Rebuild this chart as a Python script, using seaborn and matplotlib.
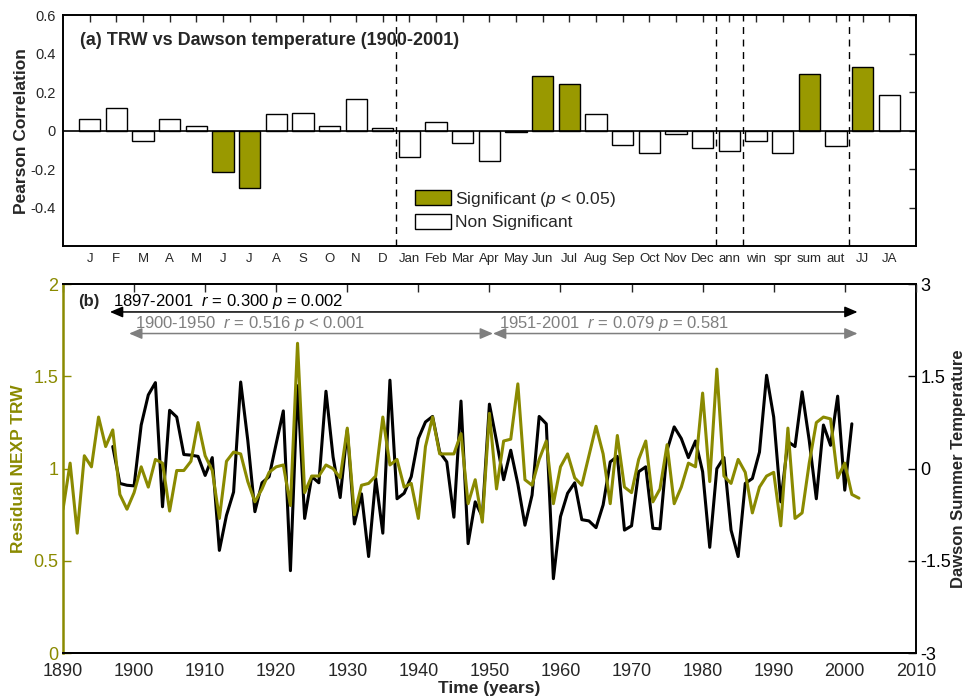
import numpy as np
import pandas as pd
import matplotlib
matplotlib.use('Agg')
import matplotlib.pyplot as plt
import seaborn as sns
from matplotlib.patches import Patch

# ---------------- data ----------------
months = ['J', 'F', 'M', 'A', 'M', 'J', 'J', 'A', 'S', 'O', 'N', 'D',
          'Jan', 'Feb', 'Mar', 'Apr', 'May', 'Jun', 'Jul', 'Aug', 'Sep', 'Oct', 'Nov', 'Dec',
          'ann', 'win', 'spr', 'sum', 'aut', 'JJ', 'JA']
corr = [0.061, 0.118, -0.054, 0.059, 0.024, -0.215, -0.296, 0.087, 0.092, 0.023, 0.165, 0.014,
        -0.135, 0.045, -0.062, -0.156, -0.005, 0.284, 0.242, 0.087, -0.074, -0.114, -0.016, -0.088,
        -0.104, -0.052, -0.116, 0.294, -0.078, 0.329, 0.185]
significant = [False, False, False, False, False, True, True, False, False, False, False, False,
               False, False, False, False, False, True, True, False, False, False, False, False,
               False, False, False, True, False, True, False]
dividers = [11.5, 23.5, 24.5, 28.5]

trw_years = list(range(1890, 2003))
trw = [0.78, 1.03, 0.65, 1.07, 1.01, 1.28, 1.12, 1.21, 0.86, 0.78,
       0.87, 1.01, 0.90, 1.05, 1.03, 0.77, 0.99, 0.99, 1.04, 1.25,
       1.07, 0.99, 0.73, 1.04, 1.09, 1.08, 0.93, 0.82, 0.89, 0.98,
       1.01, 1.02, 0.80, 1.68, 0.87, 0.96, 0.96, 1.02, 1.00, 0.95,
       1.22, 0.75, 0.91, 0.92, 0.96, 1.28, 1.02, 1.05, 0.90, 0.92,
       0.73, 1.12, 1.28, 1.08, 1.08, 1.08, 1.19, 0.81, 0.94, 0.71,
       1.30, 0.89, 1.15, 1.16, 1.46, 0.94, 0.91, 1.05, 1.15, 0.81,
       1.01, 1.08, 0.95, 0.91, 1.07, 1.23, 1.08, 0.81, 1.18, 0.90,
       0.87, 1.05, 1.15, 0.82, 0.89, 1.13, 0.81, 0.90, 1.03, 1.01,
       1.41, 0.93, 1.54, 0.96, 0.92, 1.05, 0.98, 0.76, 0.90, 0.96,
       0.98, 0.69, 1.22, 0.73, 0.76, 1.03, 1.25, 1.28, 1.27, 0.95,
       1.03, 0.86, 0.84]

temp_years = list(range(1897, 2002))
temp = [0.36, -0.24, -0.27,
        -0.28, 0.71, 1.20, 1.40, -0.62, 0.95, 0.84, 0.23, 0.22, 0.20,
        -0.11, 0.18, -1.33, -0.76, -0.38, 1.41, 0.46, -0.70, -0.23, -0.13,
        0.41, 0.94, -1.66, 1.35, -0.81, -0.13, -0.23, 1.26, 0.19, -0.47,
        0.63, -0.90, -0.41, -1.43, -0.16, -1.05, 1.44, -0.49, -0.40, -0.13,
        0.49, 0.76, 0.85, 0.27, 0.11, -0.79, 1.10, -1.22, -0.54, -0.78,
        1.05, 0.45, -0.18, 0.30, -0.25, -0.92, -0.43, 0.85, 0.73, -1.79,
        -0.78, -0.40, -0.23, -0.83, -0.85, -0.96, -0.59, 0.11, 0.20, -1.00,
        -0.93, -0.05, 0.03, -0.97, -0.98, 0.30, 0.68, 0.49, 0.18, 0.45,
        -0.05, -1.28, 0.00, 0.18, -1.00, -1.43, -0.24, -0.16, 0.27, 1.52,
        0.84, -0.54, 0.44, 0.36, 1.25, 0.46, -0.49, 0.71, 0.38, 1.18,
        -0.35, 0.73]

periods = ['1897-2001', '1900-1950', '1951-2001']
r_vals = ['0.300', '0.516', '0.079']
p_texts = ['= 0.002', '< 0.001', '= 0.581']

# ---------------- style ----------------
OLIVE_BAR = '#999900'
OLIVE_LINE = '#8a8a00'
GRAY = '#7f7f7f'

sns.set_theme(style='white')
plt.rcParams['font.family'] = ['Liberation Sans', 'DejaVu Sans']
plt.rcParams['mathtext.fontset'] = 'custom'
plt.rcParams['mathtext.rm'] = 'Liberation Sans'
plt.rcParams['mathtext.it'] = 'Liberation Sans:italic'
plt.rcParams['mathtext.bf'] = 'Liberation Sans:bold'
plt.rcParams['axes.linewidth'] = 1.4
plt.rcParams['axes.edgecolor'] = 'black'

fig = plt.figure(figsize=(9.68, 6.97), dpi=100)
ax1 = fig.add_axes([0.0651, 0.647, 0.881, 0.331])
ax2 = fig.add_axes([0.0651, 0.0631, 0.881, 0.529])

# ---------------- panel (a) ----------------
df = pd.DataFrame({
    'key': [str(i) for i in range(len(months))],
    'r': corr,
    'sig': ['Significant' if s else 'Non Significant' for s in significant],
})
sns.barplot(data=df, x='key', y='r', hue='sig',
            hue_order=['Significant', 'Non Significant'],
            palette={'Significant': OLIVE_BAR, 'Non Significant': 'white'},
            dodge=False, width=0.8, edgecolor='black', linewidth=1.0,
            saturation=1, ax=ax1, legend=False)
ax1.axhline(0, color='black', lw=1.2, zorder=3)
for d in dividers:
    ax1.axvline(d, color='black', lw=1.0, ls=(0, (5, 4)), zorder=0)
ax1.set_xlim(-1, len(months))
ax1.set_ylim(-0.6, 0.6)
ax1.set_xticks(range(len(months)))
ax1.set_xticklabels(months, fontsize=9.5)
ax1.set_yticks([-0.4, -0.2, 0, 0.2, 0.4, 0.6])
ax1.set_yticklabels(['-0.4', '-0.2', '0', '0.2', '0.4', '0.6'], fontsize=10.5)
ax1.tick_params(direction='in', top=True, right=True, length=5, width=1, pad=5)
ax1.set_xlabel('')
ax1.set_ylabel('Pearson Correlation', fontweight='bold', fontsize=12.5)
ax1.yaxis.set_label_coords(-0.040, 0.5)
ax1.text(0.02, 0.89, '(a) TRW vs Dawson temperature (1900-2001)', transform=ax1.transAxes,
         fontweight='bold', fontsize=13, va='center', ha='left')
handles = [Patch(facecolor=OLIVE_BAR, edgecolor='black', lw=1),
           Patch(facecolor='white', edgecolor='black', lw=1)]
ax1.legend(handles, ['Significant ($p$ < 0.05)', 'Non Significant'], loc='upper left',
           bbox_to_anchor=(0.413, 0.245), frameon=False, fontsize=12.5, handlelength=2.05,
           handleheight=1.0, labelspacing=0.3, handletextpad=0.25, borderpad=0, borderaxespad=0)
for s in ax1.spines.values():
    s.set_visible(True)

# ---------------- panel (b) ----------------
ax3 = ax2.twinx()
sns.lineplot(x=temp_years, y=temp, color='black', lw=2.2, ax=ax3)
sns.lineplot(x=trw_years, y=trw, color=OLIVE_LINE, lw=2.2, ax=ax2)
ax2.set_zorder(ax3.get_zorder() + 1)
ax2.patch.set_visible(False)

ax2.set_xlim(1890, 2010)
ax2.set_ylim(0, 2)
ax2.set_xticks(range(1890, 2011, 10))
ax2.set_xticklabels([str(y) for y in range(1890, 2011, 10)], fontsize=13)
ax2.set_yticks([0, 0.5, 1, 1.5, 2])
ax2.set_yticklabels(['0', '0.5', '1', '1.5', '2'], fontsize=13)
ax2.tick_params(axis='x', direction='in', top=True, length=6, width=1, pad=7)
ax2.tick_params(axis='y', direction='in', length=6, width=1, colors=OLIVE_LINE, labelcolor=OLIVE_LINE)
ax2.spines['left'].set_color(OLIVE_LINE)
ax2.spines['left'].set_linewidth(1.8)
ax2.spines['right'].set_visible(False)
ax2.set_xlabel('Time (years)', fontweight='bold', fontsize=12.5, labelpad=1)
ax2.set_ylabel('Residual NEXP TRW', fontweight='bold', fontsize=12.5, color=OLIVE_LINE)
ax2.yaxis.set_label_coords(-0.043, 0.5)

ax3.set_ylim(-3, 3)
ax3.set_yticks([-3, -1.5, 0, 1.5, 3])
ax3.set_yticklabels(['-3', '-1.5', '0', '1.5', '3'], fontsize=13)
ax3.tick_params(axis='y', direction='in', length=6, width=1, colors='black')
ax3.spines['left'].set_visible(False)
ax3.set_ylabel('Dawson Summer Temperature', fontweight='bold', fontsize=12)
ax3.yaxis.set_label_coords(1.041, 0.5)

arrow_kw = dict(shrinkA=0, shrinkB=0, lw=1.1, mutation_scale=11)
ax2.annotate('', xy=(2001.8, 1.85), xytext=(1896.6, 1.85),
             arrowprops=dict(arrowstyle='<|-|>,head_length=0.7,head_width=0.3', color='black', **arrow_kw))
ax2.annotate('', xy=(1950.5, 1.733), xytext=(1899.3, 1.733),
             arrowprops=dict(arrowstyle='<|-|>,head_length=0.7,head_width=0.3', color=GRAY, **arrow_kw))
ax2.annotate('', xy=(2001.8, 1.733), xytext=(1950.5, 1.733),
             arrowprops=dict(arrowstyle='<|-|>,head_length=0.7,head_width=0.3', color=GRAY, **arrow_kw))

ax2.text(1893.7, 1.905, '(b)', fontweight='bold', fontsize=12, ha='center', va='center')
ax2.text(1897.0, 1.905, f'{periods[0]}  $r$ = {r_vals[0]} $p$ {p_texts[0]}',
         fontsize=12, color='black', va='center', ha='left')
ax2.text(1900.1, 1.789, f'{periods[1]}  $r$ = {r_vals[1]} $p$ {p_texts[1]}',
         fontsize=12, color=GRAY, va='center', ha='left')
ax2.text(1951.3, 1.789, f'{periods[2]}  $r$ = {r_vals[2]} $p$ {p_texts[2]}',
         fontsize=12, color=GRAY, va='center', ha='left')

fig.savefig('out.png', dpi=100)
